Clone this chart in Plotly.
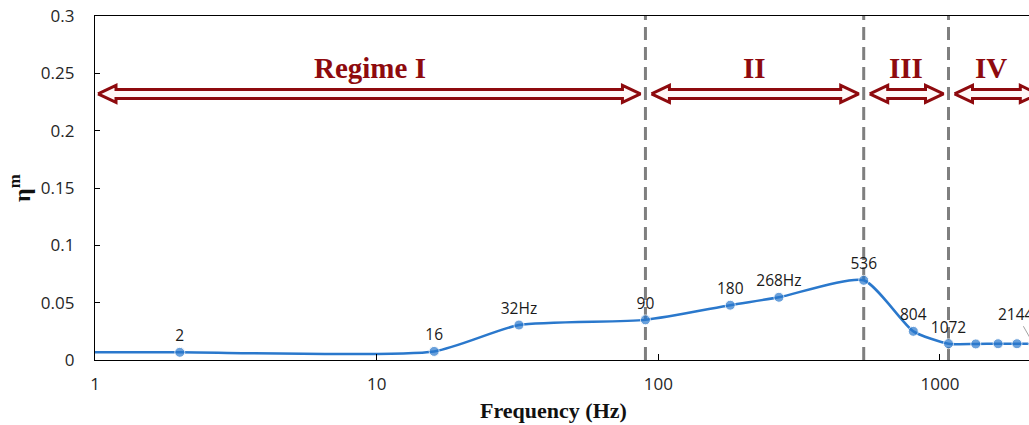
import numpy as np
import plotly.graph_objects as go

# ---------------- data ----------------
freq = [1, 2, 16, 32, 90, 180, 268, 536, 804, 1072, 1340, 1608, 1876, 2144]
eta = [0.0068, 0.0067, 0.0075, 0.0305, 0.0350, 0.0478, 0.0547, 0.0695,
       0.0250, 0.0142, 0.0140, 0.0142, 0.0142, 0.0142]
point_labels = ["", "2", "16", "32Hz", "90", "180", "268Hz", "536", "804",
                "1072", "", "", "", ""]
leader_label = "2144"
regime_bounds = [1, 90, 536, 1072, 2144]
regime_names = ["Regime I", "II", "III", "IV"]
ytick_vals = [0, 0.05, 0.1, 0.15, 0.2, 0.25, 0.3]
ytick_text = ["0", "0.05", "0.1", "0.15", "0.2", "0.25", "0.3"]
xtick_vals = [1, 10, 100, 1000]
xtick_text = ["1", "10", "100", "1000"]

# ---------------- geometry / style ----------------
W, H = 1029, 425
ML, MR, MT, MB = 95, 0, 16, 65
plot_w = W - ML - MR
plot_h = H - MT - MB
XLOG_MAX = 3.316
YMAX = 0.3
kx = plot_w / XLOG_MAX      # px per decade
ky = plot_h / YMAX          # px per unit

BLUE = "#2A78CC"
DARKRED = "#8E0A0E"
GRAY = "#7F7F7F"
TICKCOL = "#262626"


def xs(f, px):
    return 10 ** (np.log10(f) + px / kx)


fig = go.Figure()

# regime arrows (hollow double arrows)
y_arrow = 0.232
head_len = 18
head_half = 8.5
shaft_half = 4.5
gap = 5
for i in range(len(regime_names)):
    a = regime_bounds[i]
    b = regime_bounds[i + 1]
    xl = xs(a, 3 if i == 0 else gap + 1)
    xr = xs(b, -gap + (10 if i == len(regime_names) - 1 else 0))
    hs = shaft_half / ky
    hh = head_half / ky
    px_x = [xl, xs(xl, head_len), xs(xl, head_len), xs(xr, -head_len),
            xs(xr, -head_len), xr, xs(xr, -head_len), xs(xr, -head_len),
            xs(xl, head_len), xs(xl, head_len), xl]
    px_y = [y_arrow, y_arrow + hh, y_arrow + hs, y_arrow + hs, y_arrow + hh,
            y_arrow, y_arrow - hh, y_arrow - hs, y_arrow - hs, y_arrow - hh,
            y_arrow]
    fig.add_trace(go.Scatter(
        x=px_x, y=px_y, mode="lines", fill="toself", fillcolor="#FFF8F8",
        line=dict(color=DARKRED, width=3), hoverinfo="skip", showlegend=False))
    mid = 10 ** ((np.log10(a) + np.log10(b)) / 2)
    fig.add_annotation(
        x=np.log10(mid), y=0.2545, text="<b>%s</b>" % regime_names[i],
        showarrow=False, xanchor="center", yanchor="middle",
        font=dict(family="Liberation Serif", size=29, color=DARKRED))

# dashed boundaries
for b in regime_bounds[1:4]:
    fig.add_shape(type="line", x0=b, x1=b, y0=0, y1=YMAX, xref="x", yref="y",
                  layer="below", line=dict(color=GRAY, width=3, dash="13px,7px"))

# main series
sizes = [0] + [10] * (len(freq) - 1)
fig.add_trace(go.Scatter(
    x=freq, y=eta, mode="lines+markers+text",
    line=dict(color=BLUE, width=2.5, shape="spline", smoothing=0.6),
    marker=dict(color=BLUE, size=sizes),
    text=point_labels, textposition="top center",
    textfont=dict(family="Open Sans", size=15.5, color="#1a1a1a"),
    showlegend=False))

# 2144 label with leader line
fig.add_annotation(
    x=np.log10(freq[-1]), y=eta[-1], xref="x", yref="y",
    axref="x", ayref="y",
    ax=np.log10(xs(freq[-1], -17)), ay=eta[-1] + 30 / ky,
    text=leader_label, showarrow=True, arrowhead=0, arrowwidth=0.8,
    arrowcolor="#8C8C8C", standoff=4,
    font=dict(family="Open Sans", size=15.5, color="#1a1a1a"))

# axis titles
fig.add_annotation(
    xref="paper", yref="paper", x=(553 - ML) / plot_w, y=(MT + plot_h - 410) / plot_h,
    text="<b>Frequency (Hz)</b>", showarrow=False, xanchor="center", yanchor="middle",
    font=dict(family="Liberation Serif", size=22, color="#111"))
fig.add_annotation(
    xref="paper", yref="paper", x=(20 - ML) / plot_w, y=0.5, textangle=-90,
    text="<b>η<sup>m</sup></b>", showarrow=False, xanchor="center", yanchor="middle",
    font=dict(family="Liberation Serif", size=24, color="#111"))

fig.update_xaxes(
    type="log", range=[0, XLOG_MAX], showgrid=False, zeroline=False,
    showline=True, linecolor="black", linewidth=1.3, mirror=True,
    ticks="inside", ticklen=6, tickcolor="black",
    tickvals=xtick_vals, ticktext=xtick_text, ticklabelstandoff=8,
    tickfont=dict(family="Open Sans", size=17, color=TICKCOL))
fig.update_yaxes(
    range=[0, YMAX], showgrid=False, zeroline=False,
    showline=True, linecolor="black", linewidth=1.3, mirror=False,
    ticks="inside", ticklen=5, tickcolor="black",
    tickvals=ytick_vals, ticktext=ytick_text, ticklabelstandoff=16,
    tickfont=dict(family="Open Sans", size=17, color=TICKCOL))

fig.update_layout(
    width=W, height=H, margin=dict(l=ML, r=MR, t=MT, b=MB, autoexpand=False),
    plot_bgcolor="white", paper_bgcolor="white", showlegend=False)

fig.write_html("out.html")
